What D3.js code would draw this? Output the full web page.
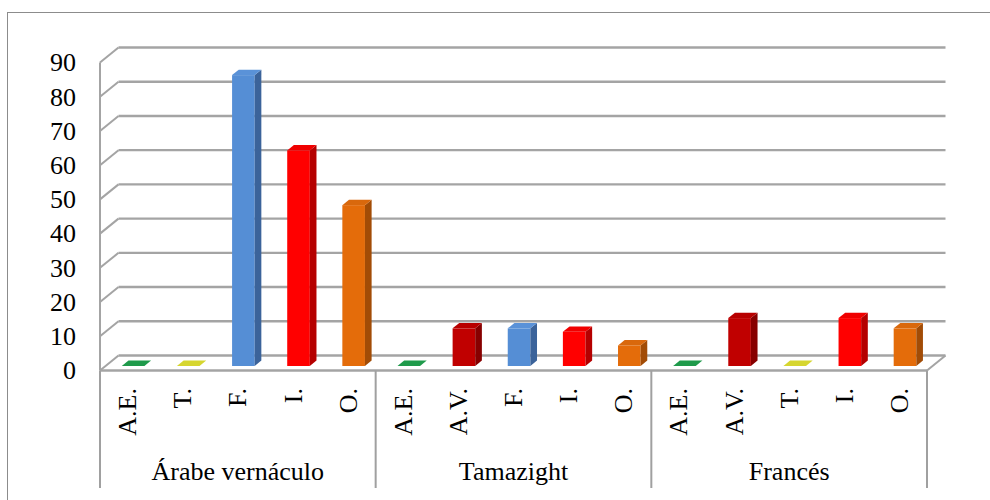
<!DOCTYPE html>
<html>
<head>
<meta charset="utf-8">
<script src="https://cdn.jsdelivr.net/npm/d3@7"></script>
<style>
  html, body { margin: 0; padding: 0; background: #fff; }
  svg { display: block; }
  text { font-family: "Liberation Serif", "Times New Roman", serif; fill: #000; }
</style>
</head>
<body>
<svg id="chart" width="990" height="500"></svg>
<script>
// Languages (outer categories) and their response categories
const groups = ["Árabe vernáculo", "Tamazight", "Francés"];
const arabeLabels = ["A.E.", "T.", "F.", "I.", "O."];
const tamazightLabels = ["A.E.", "A.V.", "F.", "I.", "O."];
const francesLabels = ["A.E.", "A.V.", "T.", "I.", "O."];

// Values per category
const arabeValues = [0, 0, 85, 63, 47];
const tamazightValues = [0, 11, 11, 10, 6];
const francesValues = [0, 14, 0, 14, 11];

const yTicks = [0, 10, 20, 30, 40, 50, 60, 70, 80, 90];

// Fill colours per category: front face, darker side face, top face
const frontColor = { "A.E.": "#1f9a4b", "T.": "#cccc22", "F.": "#558ed5", "I.": "#ff0000", "A.V.": "#c00000", "O.": "#e46c0a" };
const sideColor  = { "A.E.": "#157036", "T.": "#9a9a10", "F.": "#3b639a", "I.": "#b50000", "A.V.": "#870000", "O.": "#a24c06" };
const topColor   = { "A.E.": "#1f9a4b", "T.": "#d6d630", "F.": "#5a92d8", "I.": "#f00000", "A.V.": "#b80000", "O.": "#d9680c" };

const subLabels = [arabeLabels, tamazightLabels, francesLabels];
const seriesValues = [arabeValues, tamazightValues, francesValues];

const serif = "'Liberation Serif', 'Times New Roman', serif";
const svg = d3.select("#chart");

// Outer chart frame
svg.append("rect")
  .attr("x", 7.5).attr("y", 12.5).attr("width", 1000).attr("height", 600)
  .attr("fill", "none").attr("stroke", "#8c8c8c").attr("stroke-width", 1);

// Projection: depth offset of the back wall relative to the front plane
const depthX = 18.5, depthY = -15;

const x0 = d3.scaleBand().domain(groups).range([100, 927]);
const x1 = d3.scaleBand().domain(d3.range(5)).range([0, x0.bandwidth()]);
const y = d3.scaleLinear().domain([0, 90]).range([370.5, 62.5]);

const gridColor = "#a4a4a4";

// Back-wall gridlines plus their diagonals on the side wall
const grid = svg.append("g");
yTicks.forEach(t => {
  const yf = y(t);
  grid.append("line")
    .attr("x1", 100).attr("y1", yf).attr("x2", 100 + depthX).attr("y2", yf + depthY)
    .attr("stroke", gridColor).attr("stroke-width", 2);
  grid.append("line")
    .attr("x1", 100 + depthX).attr("y1", yf + depthY).attr("x2", 927 + depthX).attr("y2", yf + depthY)
    .attr("stroke", gridColor).attr("stroke-width", 2.4);
});
// Side wall front edge
grid.append("line")
  .attr("x1", 100).attr("y1", y(90)).attr("x2", 100).attr("y2", y(0))
  .attr("stroke", gridColor).attr("stroke-width", 2);
// Floor front edge and right edge
grid.append("line")
  .attr("x1", 100).attr("y1", y(0)).attr("x2", 927).attr("y2", y(0))
  .attr("stroke", gridColor).attr("stroke-width", 2.4);
grid.append("line")
  .attr("x1", 927).attr("y1", y(0)).attr("x2", 927 + depthX).attr("y2", y(0) + depthY)
  .attr("stroke", gridColor).attr("stroke-width", 2);

// Bars drawn as prisms
const f0 = 0.3, f1 = 0.66;           // depth span of each bar
const bdx = depthX * (f1 - f0), bdy = depthY * (f1 - f0);
const barW = x1.bandwidth() * 0.41;

const bars = svg.append("g");
groups.forEach((g, gi) => {
  subLabels[gi].forEach((lab, i) => {
    const v = seriesValues[gi][i];
    const cx = x0(g) + x1(i) + x1.bandwidth() / 2 + depthX * f0;
    const xl = cx - barW / 2, xr = cx + barW / 2;
    const yb = y(0) + depthY * f0;
    const yt = yb - (y(0) - y(v));
    if (v > 0) {
      bars.append("rect")
        .attr("x", xl).attr("y", yt).attr("width", barW).attr("height", yb - yt)
        .attr("fill", frontColor[lab]);
      bars.append("path")
        .attr("d", `M${xr},${yb}L${xr + bdx},${yb + bdy}L${xr + bdx},${yt + bdy}L${xr},${yt}Z`)
        .attr("fill", sideColor[lab]);
    }
    bars.append("path")
      .attr("d", `M${xl},${yt}L${xr},${yt}L${xr + bdx},${yt + bdy}L${xl + bdx},${yt + bdy}Z`)
      .attr("fill", topColor[lab]);
  });
});

// Value axis labels
const yAxis = d3.axisLeft(y).tickValues(yTicks).tickSize(0).tickPadding(24);
const ya = svg.append("g").attr("transform", "translate(100,0)").call(yAxis)
  .attr("font-family", serif).attr("font-size", 26);
ya.select(".domain").remove();
ya.selectAll("text")
  .style("font-family", serif)
  .style("font-size", "26px").attr("fill", "#000");

// Category axis: group separators
const sepX = groups.map(g => x0(g)).concat([x0(groups[groups.length - 1]) + x0.bandwidth()]);
svg.append("g").selectAll("line").data(sepX).join("line")
  .attr("x1", d => d).attr("x2", d => d)
  .attr("y1", y(0)).attr("y2", 488)
  .attr("stroke", "#a0a0a0").attr("stroke-width", 2);

// Rotated sub-category labels
groups.forEach((g, gi) => {
  subLabels[gi].forEach((lab, i) => {
    const cx = x0(g) + x1(i) + x1.bandwidth() / 2;
    svg.append("text")
      .attr("transform", `translate(${cx},388) rotate(-90)`)
      .attr("text-anchor", "end")
      .attr("dy", "0.33em")
      .style("font-family", serif)
      .style("font-size", "26px")
      .text(lab);
  });
});

// Group labels
svg.append("g").selectAll("text").data(groups).join("text")
  .attr("x", d => x0(d) + x0.bandwidth() / 2)
  .attr("y", 480)
  .attr("text-anchor", "middle")
  .style("font-family", serif)
  .style("font-size", "26px")
  .text(d => d);
</script>
</body>
</html>
